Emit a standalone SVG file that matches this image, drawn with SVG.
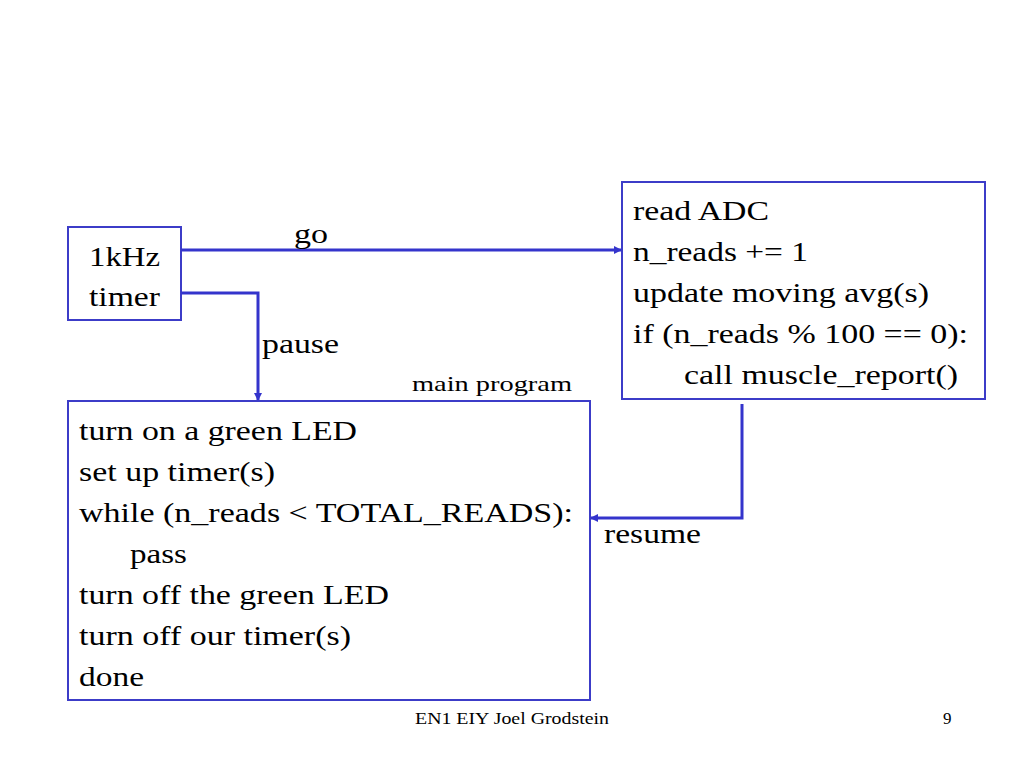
<svg xmlns="http://www.w3.org/2000/svg" width="1024" height="768" viewBox="0 0 1024 768">
<style>
.box{fill:#fff;stroke:#3c3cc8;stroke-width:2}
text{font-family:'Liberation Serif','Times New Roman','DejaVu Serif',serif;fill:#000}
.t{font-size:28px}
.s{font-size:22px}
.f{font-size:17px}
.c{fill:none;stroke:#3434cc;stroke-width:3}
</style>
<defs>
<marker id="ah" markerWidth="8" markerHeight="8" refX="7" refY="4" orient="auto" markerUnits="userSpaceOnUse">
<path d="M0,0 L8,4 L0,8 z" fill="#3434cc"/>
</marker>
</defs>
<rect width="1024" height="768" fill="#fff"/>
<g id="timer">
<rect class="box" x="68" y="227" width="113" height="93"/>
<text class="t" x="89" y="266" textLength="71" lengthAdjust="spacingAndGlyphs">1kHz</text>
<text class="t" x="89" y="306" textLength="71" lengthAdjust="spacingAndGlyphs">timer</text>
</g>
<g id="isr">
<rect class="box" x="622" y="182" width="363" height="217"/>
<text class="t" x="633" y="220" textLength="136" lengthAdjust="spacingAndGlyphs">read ADC</text>
<text class="t" x="633" y="261" textLength="175" lengthAdjust="spacingAndGlyphs">n_reads += 1</text>
<text class="t" x="633" y="302" textLength="296" lengthAdjust="spacingAndGlyphs">update moving avg(s)</text>
<text class="t" x="633" y="343" textLength="335" lengthAdjust="spacingAndGlyphs">if (n_reads % 100 == 0):</text>
<text class="t" x="684" y="384" textLength="274" lengthAdjust="spacingAndGlyphs">call muscle_report()</text>
</g>
<g id="main">
<rect class="box" x="68" y="401" width="522" height="299"/>
<text class="s" x="412" y="391" textLength="160" lengthAdjust="spacingAndGlyphs">main program</text>
<text class="t" x="79" y="440" textLength="278" lengthAdjust="spacingAndGlyphs">turn on a green LED</text>
<text class="t" x="79" y="481" textLength="196" lengthAdjust="spacingAndGlyphs">set up timer(s)</text>
<text class="t" x="79" y="522" textLength="494" lengthAdjust="spacingAndGlyphs">while (n_reads &lt; TOTAL_READS):</text>
<text class="t" x="130" y="563" textLength="57" lengthAdjust="spacingAndGlyphs">pass</text>
<text class="t" x="79" y="604" textLength="310" lengthAdjust="spacingAndGlyphs">turn off the green LED</text>
<text class="t" x="79" y="645" textLength="272" lengthAdjust="spacingAndGlyphs">turn off our timer(s)</text>
<text class="t" x="79" y="686" textLength="65" lengthAdjust="spacingAndGlyphs">done</text>
</g>
<g id="connectors">
<path class="c" d="M181,250 H621" marker-end="url(#ah)"/>
<text class="t" x="294" y="243" textLength="34" lengthAdjust="spacingAndGlyphs">go</text>
<path class="c" d="M181,293 H258 V400" marker-end="url(#ah)"/>
<text class="t" x="262" y="353" textLength="77" lengthAdjust="spacingAndGlyphs">pause</text>
<path class="c" d="M742,404 V518 H591" marker-end="url(#ah)"/>
<text class="t" x="604" y="543" textLength="97" lengthAdjust="spacingAndGlyphs">resume</text>
</g>
<g id="footer">
<text class="f" x="415" y="724" textLength="194" lengthAdjust="spacingAndGlyphs">EN1 EIY Joel Grodstein</text>
<text class="f" x="943" y="724">9</text>
</g>
</svg>
